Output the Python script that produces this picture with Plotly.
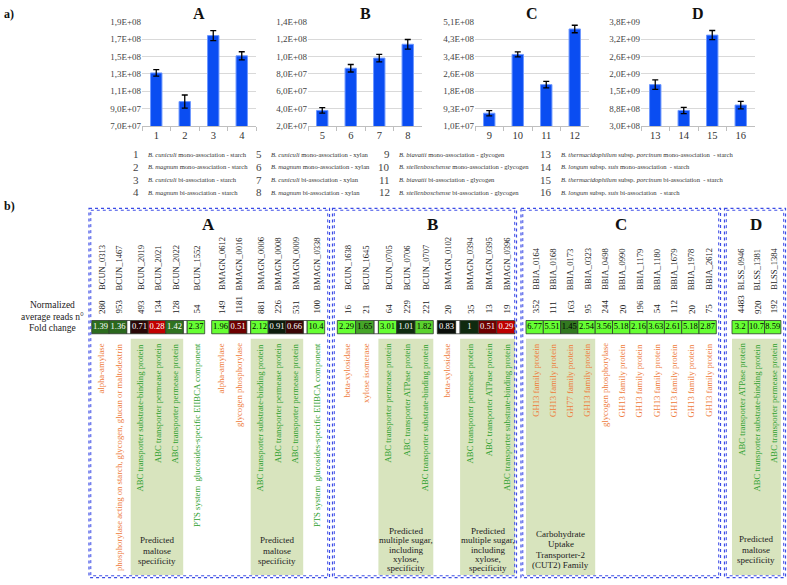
import numpy as np
import plotly.graph_objects as go

W, H = 787, 585
FONT = "Liberation Serif, Times New Roman, serif"

# ======================= panel a data =======================
panel_a_titles = ["A", "B", "C", "D"]
samples_A = ["1", "2", "3", "4"]
samples_B = ["5", "6", "7", "8"]
samples_C = ["9", "10", "11", "12"]
samples_D = ["13", "14", "15", "16"]
abund_A = [1.31e8, 9.8e7, 1.74e8, 1.507e8]
err_A = [3.7e6, 7.6e6, 5.7e6, 4.7e6]
abund_B = [3.78e7, 8.64e7, 9.81e7, 1.14e8]
err_B = [3.2e6, 4.3e6, 4.3e6, 5.5e6]
abund_C = [7.1e7, 3.53e8, 2.08e8, 4.75e8]
err_C = [1.27e7, 1.18e7, 1.57e7, 1.8e7]
abund_D = [1.687e9, 8.2e8, 3.35e9, 1.0e9]
err_D = [1.6e8, 1.05e8, 1.55e8, 1.25e8]
axis_min = [7.0e7, 2.0e7, 1.0e7, 3.0e8]
axis_max = [1.9e8, 1.4e8, 5.1e8, 3.8e9]
ticktext_A = ["7,0E+07", "9,0E+07", "1,1E+08", "1,3E+08", "1,5E+08", "1,7E+08", "1,9E+08"]
ticktext_B = ["2,0E+07", "4,0E+07", "6,0E+07", "8,0E+07", "1,0E+08", "1,2E+08", "1,4E+08"]
ticktext_C = ["1,0E+07", "9,3E+07", "1,8E+08", "2,6E+08", "3,4E+08", "4,3E+08", "5,1E+08"]
ticktext_D = ["3,0E+08", "8,8E+08", "1,5E+09", "2,0E+09", "2,6E+09", "3,2E+09", "3,8E+09"]

legend_numbers = [str(i) for i in range(1, 17)]
legend_species = ["B. cuniculi", "B. magnum", "B. cuniculi", "B. magnum",
                  "B. cuniculi", "B. magnum", "B. cuniculi", "B. magnum",
                  "B. biavatii", "B. stellenboschense", "B. biavatii", "B. stellenboschense",
                  "B. thermacidophilum subsp. porcinum", "B. longum subsp. suis",
                  "B. thermacidophilum subsp. porcinum", "B. longum subsp. suis"]
legend_condition = ["mono-association - starch", "mono-association - starch",
                    "bi-association - starch", "bi-association - starch",
                    "mono-association - xylan", "mono-association - xylan",
                    "bi-association - xylan", "bi-association - xylan",
                    "mono-association - glycogen", "mono-association - glycogen",
                    "bi-association - glycogen", "bi-association - glycogen",
                    "mono-association  - starch", "mono-association  - starch",
                    "bi-association  - starch", "bi-association  - starch"]

# ======================= panel b data =======================
box_titles = ["A", "B", "C", "D"]
genes_A = ["BCUN_0313", "BCUN_1467", "BCUN_2019", "BCUN_2021", "BCUN_2022", "BCUN_1552",
           "BMAGN_0612", "BMAGN_0016", "BMAGN_0006", "BMAGN_0008", "BMAGN_0009", "BMAGN_0338"]
reads_A = [280, 953, 493, 134, 128, 54, 149, 1181, 881, 226, 531, 100]
fold_A = [1.39, 1.36, 0.71, 0.28, 1.42, 2.37, 1.96, 0.51, 2.12, 0.91, 0.66, 10.4]
annot_A = ["alpha-amylase",
           "phosphorylase acting on starch, glycogen, glucan or maltodextrin",
           "ABC transporter substrate-binding protein",
           "ABC transporter permease protein",
           "ABC transporter permease protein",
           "PTS system  glucosides-specific EIIBCA component",
           "alpha-amylase",
           "glycogen phosphorylase",
           "ABC transporter substrate-binding protein",
           "ABC transporter permease protein",
           "ABC transporter permease protein",
           "PTS system  glucosides-specific EIIBCA component"]

genes_B = ["BCUN_1638", "BCUN_1645", "BCUN_0705", "BCUN_0706", "BCUN_0707",
           "BMAGN_0102", "BMAGN_0394", "BMAGN_0395", "BMAGN_0396"]
reads_B = [16, 21, 64, 229, 221, 20, 35, 13, 19]
fold_B = [2.29, 1.65, 3.01, 1.01, 1.82, 0.83, 1.0, 0.51, 0.29]
annot_B = ["beta-xylosidase", "xylose isomerase",
           "ABC transporter permease protein", "ABC transporter ATPase protein",
           "ABC transporter substrate-binding protein",
           "beta-xylosidase",
           "ABC transporter permease protein", "ABC transporter ATPase protein",
           "ABC transporter substrate-binding protein"]

genes_C = ["BBIA_0164", "BBIA_0168", "BBIA_0173", "BBIA_0323", "BBIA_0498", "BBIA_0990",
           "BBIA_1179", "BBIA_1180", "BBIA_1679", "BBIA_1978", "BBIA_2612"]
reads_C = [352, 111, 163, 95, 244, 20, 196, 54, 112, 20, 75]
fold_C = [6.77, 5.51, 1.45, 2.54, 3.56, 5.18, 2.16, 3.63, 2.61, 5.18, 2.87]
annot_C = ["GH13 family protein", "GH13 family protein", "GH77 family protein",
           "GH13 family protein", "glycogen phosphorylase", "GH13 family protein",
           "GH13 family protein", "GH13 family protein", "GH13 family protein",
           "GH13 family protein", "GH13 family protein"]

genes_D = ["BLSS_0946", "BLSS_1381", "BLSS_1384"]
reads_D = [4483, 920, 192]
fold_D = [3.2, 10.7, 8.59]
annot_D = ["ABC transporter ATPase protein",
           "ABC transporter substrate-binding protein",
           "ABC transporter permease protein"]

# separators before each gene: 0 none, 1 white spacer cell, 2 organism break
sep_A = [0, 0, 1, 0, 0, 1, 2, 0, 1, 0, 0, 1]
sep_B = [0, 0, 1, 0, 0, 2, 1, 0, 0]
sep_C = [0] * 11
sep_D = [0] * 3
shade_A = [(2, 4, ["Predicted", "maltose", "specificity"]),
           (8, 10, ["Predicted", "maltose", "specificity"])]
shade_B = [(2, 4, ["Predicted", "multiple sugar,", "including", "xylose,", "specificity"]),
           (6, 8, ["Predicted", "multiple sugar,", "including", "xylose,", "specificity"])]
shade_C = [(0, 3, ["Carbohydrate", "Uptake", "Transporter-2", "(CUT2) Family"])]
shade_D = [(0, 2, ["Predicted", "maltose", "specificity"])]

# ======================= styles / geometry =======================
BAR_BLUE = "#0A4DF2"
ORANGE = "#EE7A3A"
GREEN = "#2FA02F"
SHADE = "#D8E4BE"
BOXBLUE = "#3B4BE6"

plot_x = [(142, 256), (308, 422), (475, 589), (641, 755)]
plot_y = (17, 123)

def px(x):
    return x / W

def py(y):
    return 1 - y / H

fig = go.Figure()
layout = dict(width=W, height=H, margin=dict(l=0, r=0, t=0, b=0),
              paper_bgcolor="white", plot_bgcolor="rgba(0,0,0,0)",
              showlegend=False, barmode="overlay", bargap=0.6,
              font=dict(family=FONT, color="#333"))
annotations = []
shapes = []

panels = [(samples_A, abund_A, err_A, ticktext_A),
          (samples_B, abund_B, err_B, ticktext_B),
          (samples_C, abund_C, err_C, ticktext_C),
          (samples_D, abund_D, err_D, ticktext_D)]

for i, (cats, vals, errs, ttext) in enumerate(panels):
    k = i + 1
    xa = "x" if k == 1 else f"x{k}"
    ya = "y" if k == 1 else f"y{k}"
    fig.add_trace(go.Bar(x=cats, y=vals, xaxis=xa, yaxis=ya,
                         marker=dict(color=BAR_BLUE, line=dict(color="#6E98FF", width=1)),
                         error_y=dict(type="data", array=errs, color="black", thickness=1.3, width=3),
                         hoverinfo="skip"))
    tv = np.linspace(axis_min[i], axis_max[i], len(ttext))
    layout[f"xaxis{'' if k == 1 else k}"] = dict(
        domain=[px(plot_x[i][0]), px(plot_x[i][1])], anchor=ya, type="category",
        showline=True, linecolor="#bfbfbf", linewidth=1, ticks="outside", tickson="boundaries",
        ticklen=4, tickcolor="#bfbfbf", tickfont=dict(size=10.5, color="#333", family=FONT),
        showgrid=False, fixedrange=True)
    layout[f"yaxis{'' if k == 1 else k}"] = dict(
        domain=[py(plot_y[1]), py(plot_y[0])], anchor=xa, range=[axis_min[i], axis_max[i]],
        tickvals=tv, ticktext=ttext, showgrid=True, gridcolor="#d9d9d9", gridwidth=1,
        zeroline=False, showline=False, ticks="", tickfont=dict(size=9, color="#444", family=FONT),
        fixedrange=True)
    annotations.append(dict(text=f"<b>{panel_a_titles[i]}</b>", xref="paper", yref="paper",
                            x=px((plot_x[i][0] + plot_x[i][1]) / 2), y=py(9),
                            xanchor="center", yanchor="middle", showarrow=False,
                            font=dict(size=16, color="#111", family=FONT)))

annotations.append(dict(text="<b>a)</b>", xref="paper", yref="paper", x=px(2), y=py(9),
                        xanchor="left", yanchor="middle", showarrow=False,
                        font=dict(size=12, color="#111", family=FONT)))
annotations.append(dict(text="<b>b)</b>", xref="paper", yref="paper", x=px(2), y=py(204),
                        xanchor="left", yanchor="middle", showarrow=False,
                        font=dict(size=12, color="#111", family=FONT)))

# legend for panel a
leg_text_x = [146, 269, 397, 559]
leg_row_y = [152, 164.8, 177.6, 190.6]

def species_html(s):
    parts = s.split(" subsp. ")
    if len(parts) == 2:
        return f"<i>{parts[0]}</i> subsp. <i>{parts[1]}</i>"
    return f"<i>{s}</i>"

for j, num in enumerate(legend_numbers):
    col, row = j // 4, j % 4
    annotations.append(dict(text=num, xref="paper", yref="paper", x=px(leg_text_x[col] - 5),
                            y=py(leg_row_y[row]), xanchor="right", yanchor="middle",
                            showarrow=False, font=dict(size=11, color="#444", family=FONT)))
    annotations.append(dict(text=f"{species_html(legend_species[j])} {legend_condition[j]}",
                            xref="paper", yref="paper", x=px(leg_text_x[col]), y=py(leg_row_y[row]),
                            xanchor="left", yanchor="middle", showarrow=False,
                            font=dict(size=6.6, color="#333", family=FONT)))

# ======================= panel b =======================
layout["xaxis5"] = dict(domain=[0, 1], range=[0, W], anchor="y5", visible=False, fixedrange=True)
layout["yaxis5"] = dict(domain=[0, 1], range=[H, 0], anchor="x5", visible=False, fixedrange=True)

boxes = [
    dict(x0=89, x1=329.5, cx=91.7, cw=17.5, gap=4.0, brk=7.0, title_x=208,
         genes=genes_A, reads=reads_A, fold=fold_A, annot=annot_A, sep=sep_A, shade=shade_A,
         cap_y=555, cap_dy=11),
    dict(x0=332.5, x1=516.5, cx=337.3, cw=18.3, gap=4.5, brk=4.0, title_x=432,
         genes=genes_B, reads=reads_B, fold=fold_B, annot=annot_B, sep=sep_B, shade=shade_B,
         cap_y=554, cap_dy=9.5),
    dict(x0=521, x1=720.5, cx=526.0, cw=17.3, gap=4.0, brk=4.0, title_x=621,
         genes=genes_C, reads=reads_C, fold=fold_C, annot=annot_C, sep=sep_C, shade=shade_C,
         cap_y=554, cap_dy=10.7),
    dict(x0=724.5, x1=785.5, cx=732.0, cw=16.3, gap=4.0, brk=4.0, title_x=756,
         genes=genes_D, reads=reads_D, fold=fold_D, annot=annot_D, sep=sep_D, shade=shade_D,
         cap_y=554, cap_dy=11),
]

CELL_TOP, CELL_H = 321.0, 13.5
all_x, all_w, all_f = [], [], []
sp_x, sp_w = [], []

colorscale = [[0.0, "#CC0000"], [0.143, "#700000"], [0.314, "#0A0A0A"], [0.429, "#0F2A0F"],
              [0.657, "#2D6E1E"], [0.8, "#45A528"], [0.897, "#5AD22E"], [0.971, "#66FF33"],
              [1.0, "#66FF33"]]

for bi, b in enumerate(boxes):
    x = b["cx"]
    centers = []
    for gi in range(len(b["genes"])):
        if b["sep"][gi] == 1:
            sp_x.append(x + b["gap"] / 2)
            sp_w.append(b["gap"])
            x += b["gap"]
        elif b["sep"][gi] == 2:
            x += b["brk"]
        centers.append(x + b["cw"] / 2)
        x += b["cw"]
    all_x += centers
    all_w += [b["cw"]] * len(centers)
    all_f += b["fold"]

    # shading + captions
    for (i0, i1, cap) in b["shade"]:
        xa0 = centers[i0] - b["cw"] / 2
        xa1 = centers[i1] + b["cw"] / 2
        shapes.append(dict(type="rect", xref="x5", yref="y5", x0=xa0, x1=xa1, y0=339.5, y1=580,
                           fillcolor=SHADE, line=dict(width=0), layer="below"))
        n = len(cap)
        for li, line in enumerate(cap):
            yy = b["cap_y"] + (li - (n - 1) / 2) * b["cap_dy"]
            annotations.append(dict(text=line, xref="x5", yref="y5", x=(xa0 + xa1) / 2, y=yy,
                                    xanchor="center", yanchor="middle", showarrow=False,
                                    font=dict(size=9, color="#222", family=FONT)))

    # dashed box
    for off, wdt in ((0, 1.2), (1.8, 1.0)):
        shapes.append(dict(type="rect", xref="x5", yref="y5", x0=b["x0"] + off, x1=b["x1"] - off,
                           y0=207 + off, y1=582.5 - off,
                           line=dict(color=BOXBLUE, width=wdt, dash="dot"), layer="above"))
    annotations.append(dict(text=f"<b>{box_titles[bi]}</b>", xref="x5", yref="y5",
                            x=b["title_x"], y=223, xanchor="center", yanchor="middle",
                            showarrow=False, font=dict(size=17, color="#111", family=FONT)))

    for gi, c in enumerate(centers):
        annotations.append(dict(text=b["genes"][gi], xref="x5", yref="y5", x=c + 1, y=292,
                                textangle=-90, xanchor="center", yanchor="bottom", showarrow=False,
                                font=dict(size=8.5, color="#222", family=FONT)))
        annotations.append(dict(text=str(b["reads"][gi]), xref="x5", yref="y5", x=c + 1, y=316,
                                textangle=-90, xanchor="center", yanchor="bottom", showarrow=False,
                                font=dict(size=9, color="#222", family=FONT)))
        desc = b["annot"][gi]
        col = GREEN if desc.startswith(("ABC", "PTS")) else ORANGE
        annotations.append(dict(text=desc, xref="x5", yref="y5", x=c + 1, y=342,
                                textangle=-90, xanchor="center", yanchor="top", showarrow=False,
                                font=dict(size=8.7, color=col, family=FONT)))

# spacer (white) cells
fig.add_trace(go.Bar(x=sp_x, y=[CELL_H] * len(sp_x), base=[CELL_TOP] * len(sp_x), width=sp_w,
                     xaxis="x5", yaxis="y5", marker=dict(color="white", line=dict(color="#333", width=0.8)),
                     hoverinfo="skip"))
# fold-change cells
fig.add_trace(go.Bar(x=all_x, y=[CELL_H] * len(all_x), base=[CELL_TOP] * len(all_x), width=all_w,
                     xaxis="x5", yaxis="y5",
                     marker=dict(color=all_f, colorscale=colorscale, cmin=0.25, cmax=2.0,
                                 line=dict(color="#2E3A2E", width=0.8)),
                     hoverinfo="skip"))
fig.add_trace(go.Scatter(x=all_x, y=[CELL_TOP + CELL_H / 2] * len(all_x), xaxis="x5", yaxis="y5",
                         mode="text", text=[f"{v:g}" for v in all_f],
                         textfont=dict(size=8.5, family=FONT,
                                       color=["white" if v < 1.43 else "black" for v in all_f]),
                         hoverinfo="skip", cliponaxis=False))

# row labels
for txt, yy in (("Normalized", 305), ("average reads n°", 317), ("Fold change", 328.5)):
    annotations.append(dict(text=txt, xref="paper", yref="paper", x=px(53), y=py(yy),
                            xanchor="center", yanchor="middle", showarrow=False,
                            font=dict(size=9.5, color="#222", family=FONT)))

layout["annotations"] = annotations
layout["shapes"] = shapes
fig.update_layout(**layout)
fig.write_html("out.html", config={"displayModeBar": False},
               post_script="document.body.style.margin='0';")
